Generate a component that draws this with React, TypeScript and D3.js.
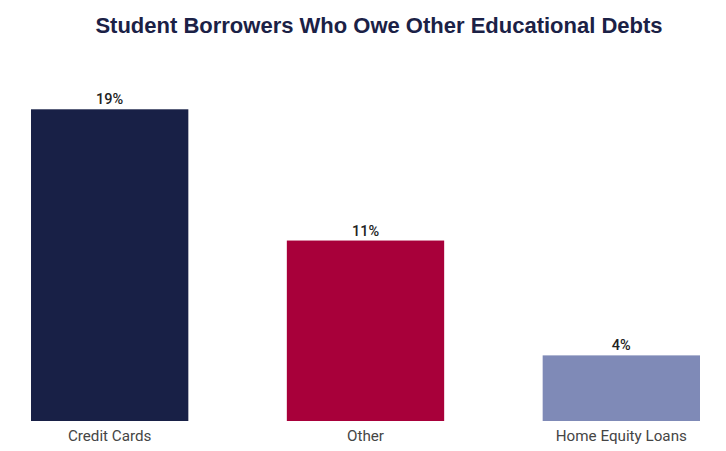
import React from "react";
import * as d3 from "d3";

const categories = ["Credit Cards", "Other", "Home Equity Loans"];
const values = [19, 11, 4];
const valueLabels = ["19%", "11%", "4%"];
const colors = ["#182046", "#a8003a", "#7f8ab7"];
const title = "Student Borrowers Who Owe Other Educational Debts";

const W = 726;
const H = 451;

export default function App() {
  const x = d3.scaleBand<string>().domain(categories).range([31, 700]).paddingInner(0.385).paddingOuter(0);
  const y = d3.scaleLinear().domain([0, 19]).range([421, 109.3]);
  return (
    <svg width={W} height={H} style={{ position: "absolute", left: 0, top: 0, background: "#fff" }}>
      <text x={379} y={33} textAnchor="middle" fontFamily="'Liberation Sans', Arial, sans-serif" fontWeight={700} fontSize={22} fill="#1b2146">
        {title}
      </text>
      {categories.map((c, i) => {
        const bx = x(c)!;
        const bw = x.bandwidth();
        const cx = bx + bw / 2;
        return (
          <g key={c}>
            <rect x={bx} y={y(values[i])} width={bw} height={y(0) - y(values[i])} fill={colors[i]} />
            <text x={cx} y={y(values[i]) - 5} textAnchor="middle" fontFamily="Roboto, sans-serif" fontWeight={500} fontSize={14.5} fill="#222">
              {valueLabels[i]}
            </text>
            <text x={cx} y={441} textAnchor="middle" fontFamily="Roboto, sans-serif" fontSize={15.2} fill="#454545">
              {c}
            </text>
          </g>
        );
      })}
    </svg>
  );
}
